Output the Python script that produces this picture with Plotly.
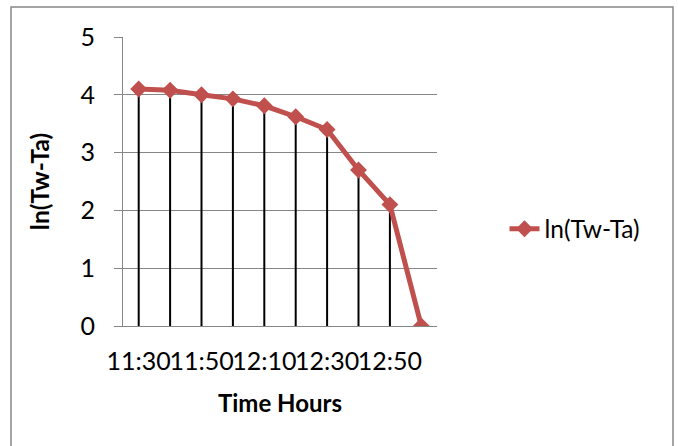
import plotly.graph_objects as go

times = ["11:30", "11:40", "11:50", "12:00", "12:10", "12:20", "12:30", "12:40", "12:50", "13:00"]
ln_values = [4.1, 4.08, 4.0, 3.93, 3.81, 3.62, 3.4, 2.7, 2.1, 0.0]
tick_times = ["11:30", "11:50", "12:10", "12:30", "12:50"]
y_ticks = [0, 1, 2, 3, 4, 5]

FONT = "Lato"
GRAY = "#868686"
RED = "#C0504D"

fig = go.Figure()

# drop lines from each point to the axis
fig.add_trace(go.Scatter(
    x=times, y=ln_values, mode="markers",
    marker=dict(size=1, color="rgba(0,0,0,0)"),
    error_y=dict(type="data", symmetric=False,
                 array=[0] * len(ln_values), arrayminus=ln_values,
                 width=0, thickness=2, color="black"),
    showlegend=False, hoverinfo="skip",
))

fig.add_trace(go.Scatter(
    x=times, y=ln_values, mode="lines+markers", name="ln(Tw-Ta)",
    line=dict(color=RED, width=5),
    marker=dict(symbol="diamond", size=13, color=RED),
))

fig.update_layout(
    width=678, height=446,
    margin=dict(l=123, r=241, t=37, b=120),
    paper_bgcolor="white", plot_bgcolor="white",
    font=dict(family=FONT, size=24, color="black"),
    showlegend=True,
    legend=dict(x=1.215, y=0.336, xanchor="left", yanchor="middle",
                font=dict(family=FONT, size=24.5, color="black"),
                bgcolor="rgba(0,0,0,0)", itemwidth=30),
    xaxis=dict(
        type="category", range=[-0.5, len(times) - 0.5],
        tickmode="array", tickvals=tick_times, ticktext=tick_times,
        tickangle=0, ticks="", showgrid=False,
        showline=True, linecolor=GRAY, linewidth=1,
        ticklabelstandoff=13,
        tickfont=dict(family=FONT, size=25),
        title=dict(text="<b>Time Hours</b>", font=dict(family=FONT, size=24), standoff=21),
        zeroline=False,
    ),
    yaxis=dict(
        range=[0, 5], tickmode="array", tickvals=y_ticks,
        ticks="outside", ticklen=8, tickcolor=GRAY, tickwidth=1,
        showgrid=True, gridcolor=GRAY, gridwidth=1,
        showline=True, linecolor=GRAY, linewidth=1,
        zeroline=False, ticklabelstandoff=14,
        tickfont=dict(family=FONT, size=25),
        title=dict(text="<b>ln(Tw-Ta)</b>", font=dict(family=FONT, size=24.5), standoff=23),
    ),
    shapes=[dict(type="rect", xref="paper", yref="paper",
                 x0=(11 - 123) / 314, x1=(673 - 123) / 314,
                 y0=(326 - 460) / 289, y1=(326 - 7) / 289,
                 line=dict(color=GRAY, width=1.5), fillcolor="rgba(0,0,0,0)",
                 layer="below")],
)

fig.write_html("out.html")
